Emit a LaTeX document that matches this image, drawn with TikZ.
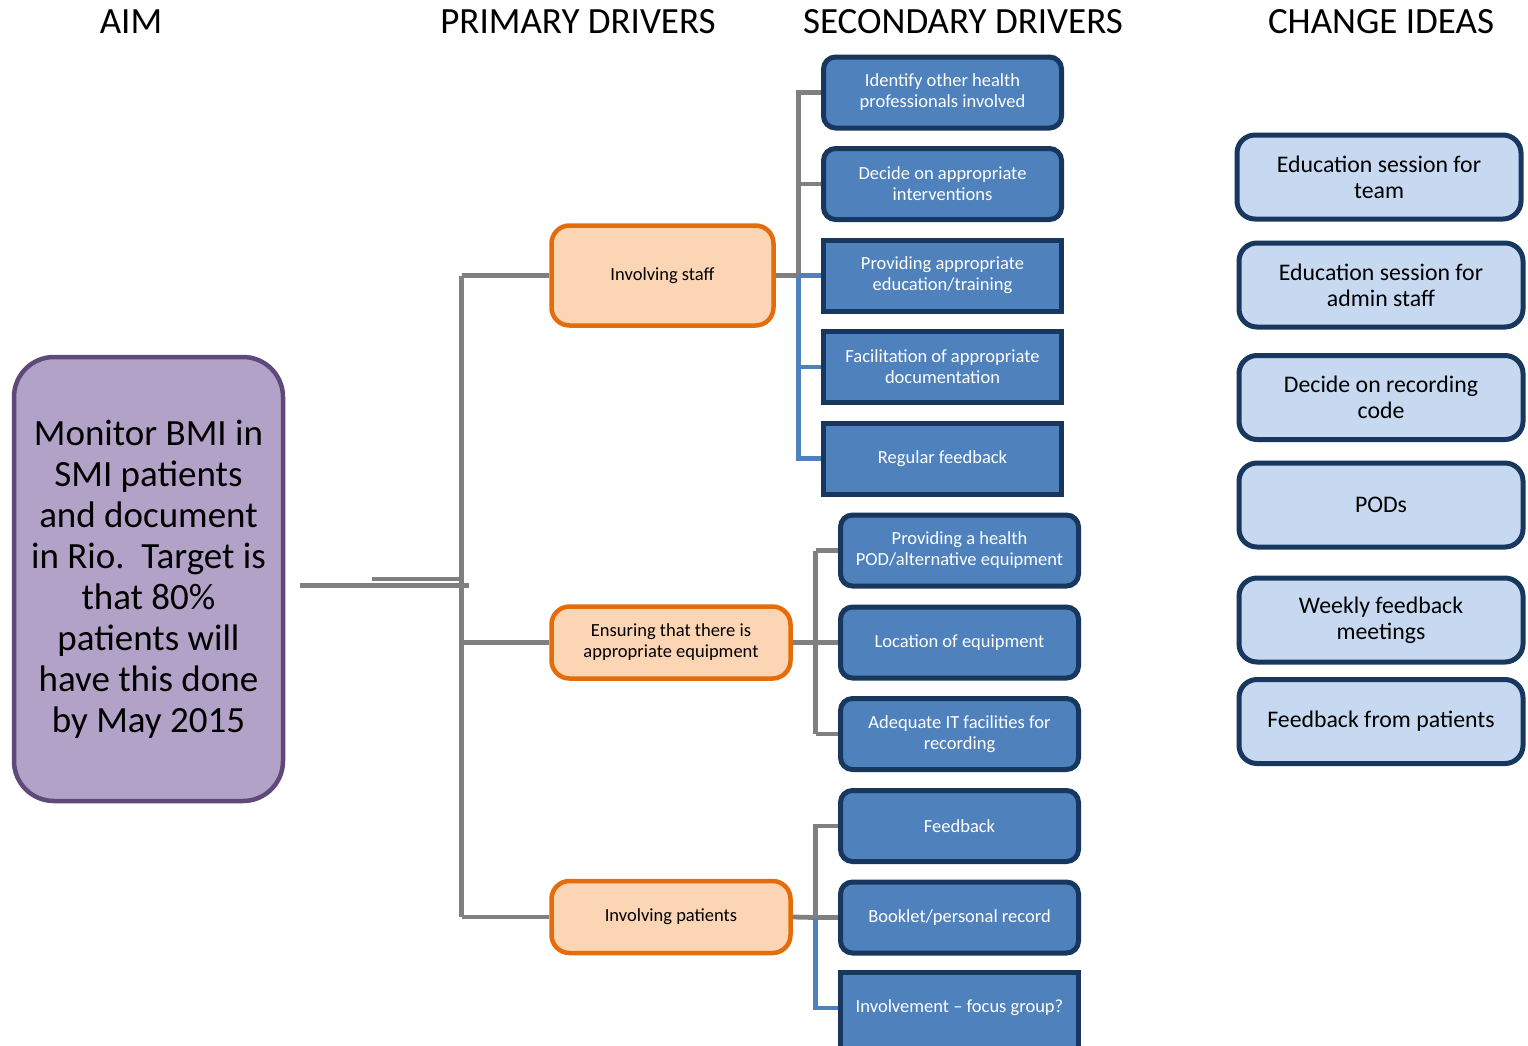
\documentclass[tikz,border=0pt]{standalone}
\usepackage{fontspec}
\setmainfont{Carlito}
\usetikzlibrary{positioning}
\definecolor{aimfill}{RGB}{179,162,199}
\definecolor{aimline}{RGB}{95,73,122}
\definecolor{drvfill}{RGB}{252,213,181}
\definecolor{drvline}{RGB}{228,108,10}
\definecolor{secfill}{RGB}{79,129,189}
\definecolor{navy}{RGB}{23,55,94}
\definecolor{ideafill}{RGB}{198,217,241}
\definecolor{linkgray}{RGB}{128,128,128}

\begin{document}
\begin{tikzpicture}[
  x=1pt, y=-1pt,
  head/.style={font=\fontsize{37}{44}\selectfont, anchor=center},
  aimbox/.style={draw=aimline, line width=4.5pt, rounded corners=40pt, fill=aimfill, minimum width=269pt, minimum height=444pt, align=center, font=\fontsize{37}{41}\selectfont},
  drv/.style={draw=drvline, line width=4.5pt, rounded corners=18pt, fill=drvfill, minimum height=100pt, align=center, font=\fontsize{18.5}{21}\selectfont},
  sec/.style={draw=navy, line width=5pt, rounded corners=12pt, fill=secfill, text=white, minimum width=238pt, minimum height=71pt, align=center, font=\fontsize{18.5}{21}\selectfont},
  secsq/.style={sec, sharp corners},
  idea/.style={draw=navy, line width=5pt, rounded corners=18pt, fill=ideafill, minimum width=284pt, minimum height=84pt, align=center, font=\fontsize{23.8}{26}\selectfont},
  conn/.style={draw=linkgray, line width=4.8pt},
  connb/.style={draw=secfill, line width=4.8pt}
]
\useasboundingbox (0,0) rectangle (1528,1045);

% column titles
\node[head] (hAim) at (131,22) {AIM};
\node[head] (hPri) at (578,22) {PRIMARY DRIVERS};
\node[head] (hSec) at (963,22) {SECONDARY DRIVERS};
\node[head] (hIdea) at (1381,22) {CHANGE IDEAS};

% aim
\node[aimbox] (aim) at (148.5,579) {Monitor BMI in\\SMI patients\\and document\\in Rio.\ \ Target is\\that 80\%\\patients will\\have this done\\by May 2015};

% primary drivers
\node[drv, minimum width=222pt] (staff) at (662.5,275.5) {Involving staff};
\node[drv, minimum width=239pt, minimum height=72pt] (equip) at (671,642.5) {Ensuring that there is\\appropriate equipment};
\node[drv, minimum width=239pt, minimum height=72pt] (pats) at (671,917) {Involving patients};

% secondary drivers
\node[sec] (s1) at (942.5,92.5) {Identify other health\\professionals involved};
\node[sec] (s2) at (942.5,184) {Decide on appropriate\\interventions};
\node[secsq] (s3) at (942.5,275.5) {Providing appropriate\\education/training};
\node[secsq] (s4) at (942.5,367) {Facilitation of appropriate\\documentation};
\node[secsq] (s5) at (942.5,458.5) {Regular feedback};
\node[sec] (s6) at (959.5,550.5) {Providing a health\\POD/alternative equipment};
\node[sec] (s7) at (959.5,642.5) {Location of equipment};
\node[sec] (s8) at (959.5,734) {Adequate IT facilities for\\recording};
\node[sec] (s9) at (959.5,826) {Feedback};
\node[sec] (s10) at (959.5,917.5) {Booklet/personal record};
\node[secsq, minimum height=80pt] (s11) at (959.5,1012) {};
\node (s11t) at (959.5,1008) [text=white, font=\fontsize{18.5}{21}\selectfont] {Involvement -- focus group?};

% change ideas
\node[idea] (c1) at (1379,177) {Education session for\\team};
\node[idea] (c2) at (1381,285) {Education session for\\admin staff};
\node[idea] (c3) at (1381,397.5) {Decide on recording\\code};
\node[idea] (c4) at (1381,505) {PODs};
\node[idea] (c5) at (1381,620) {Weekly feedback\\meetings};
\node[idea] (c6) at (1381,721.5) {Feedback from patients};

% junctions
\coordinate (jTop) at (461.5,275.5);
\coordinate (jBot) at (461.5,917);
\coordinate (jEnd) at (469,585.5);
\coordinate (jA) at (798.5,275.5);
\coordinate (jB) at (815.5,642.5);
\coordinate (jC) at (815.5,917.5);

% aim to primary drivers
\draw[conn, shorten <=15pt] ([yshift=-6.5pt]aim.east) -- (jEnd);
\draw[conn] ([xshift=87pt]aim.east) -- (aim.east -| jTop);
\draw[conn] (jTop) -- (jBot);
\draw[conn] (jTop) -- (staff.west);
\draw[conn] (jTop |- equip.west) -- (equip.west);
\draw[conn] (jBot) -- (pats.west);

% primary to secondary
\draw[conn] (staff.east) -- (jA);
\draw[conn] (jA) |- (s1.west);
\draw[conn] (jA |- s2.west) -- (s2.west);
\draw[connb] (jA) -- (s3.west);
\draw[connb] (jA) |- (s5.west);
\draw[connb] (jA |- s4.west) -- (s4.west);

\draw[conn] (equip.east) -- (jB);
\draw[conn] (jB |- s6.west) -- (jB |- s8.west);
\draw[conn] (jB) -- (s7.west);
\draw[conn] (jB |- s6.west) -- (s6.west);
\draw[conn] (jB |- s8.west) -- (s8.west);

\draw[conn] (pats.east) -- (jC);
\draw[conn] (jC) |- (s9.west);
\draw[conn] (jC) -- (s10.west);
\draw[connb] (jC) |- (s11t.west -| s11.west);
\end{tikzpicture}
\end{document}
